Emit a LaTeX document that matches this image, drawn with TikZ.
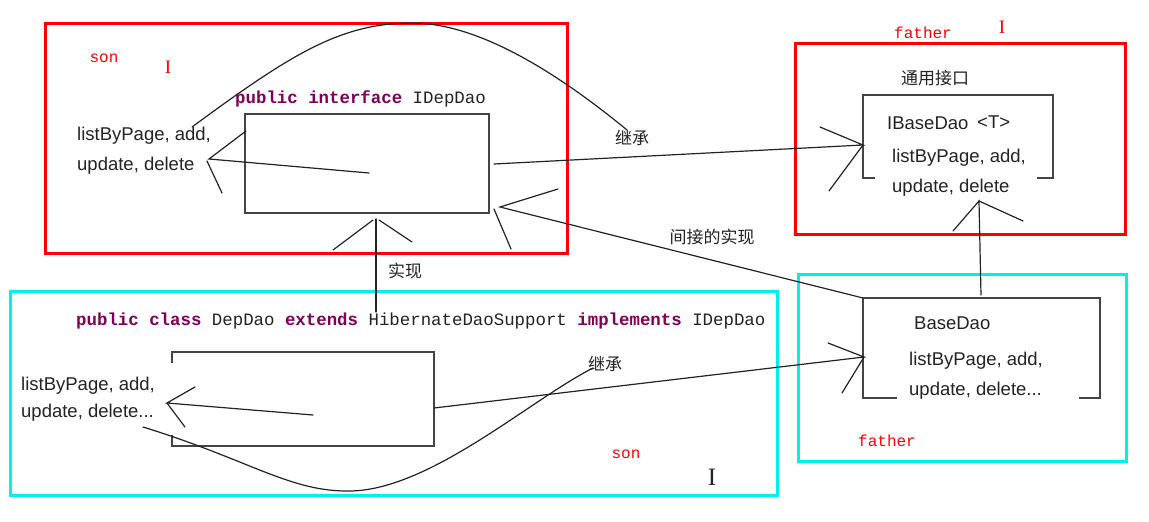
\documentclass[tikz,border=0pt]{standalone}
\usepackage{fontspec}
\setmainfont{Liberation Sans}
\setmonofont{Liberation Mono}
\newfontfamily\cjk{Noto Sans CJK SC}
\newfontfamily\cursorfont{Liberation Serif}
\definecolor{kwpurple}{RGB}{127,0,85}
\definecolor{framered}{RGB}{255,0,0}
\definecolor{framecyan}{RGB}{0,240,240}
\definecolor{ink}{RGB}{35,35,35}
\tikzset{
  frame/.style={line width=3pt},
  classbox/.style={draw=ink!85, line width=1.5pt},
  stroke/.style={ink, line width=1.2pt, line cap=round},
  code/.style={font=\fontsize{17.4}{20}\selectfont\ttfamily, inner sep=0pt, anchor=west, text=ink},
  member/.style={font=\fontsize{18.5}{22}\selectfont, inner sep=0pt, anchor=west, text=ink},
  zh/.style={font=\fontsize{17}{20}\selectfont\cjk, inner sep=0pt, text=ink},
  tag/.style={font=\fontsize{16}{20}\selectfont\ttfamily, inner sep=0pt, text=framered},
  cursor/.style={font=\fontsize{19}{20}\selectfont\cursorfont, inner sep=0pt},
}
\newcommand{\kw}[1]{\textcolor{kwpurple}{\bfseries #1}}
\begin{document}
\begin{tikzpicture}[x=1pt, y=-1pt]
\useasboundingbox[fill=white] (0,0) rectangle (1149,522);
% frames
\draw[frame, framered] (45,23) rectangle (567,253);
\draw[frame, framered] (795,43) rectangle (1125,234);
\draw[frame, framecyan] (10,291) rectangle (777,495);
\draw[frame, framecyan] (798,274) rectangle (1126,461);
% class boxes
\draw[classbox] (245,114) rectangle (489,213);
\draw[classbox] (875,178) -| (863,95) -| (1053,178) -- (1037,178);
\draw[classbox] (172,363) -- (172,352) -| (434,446) -| (172,435);
\draw[classbox] (897,398) -| (863,298) -| (1100,398) -- (1079,398);
% texts, interface IDepDao
\node[tag] (sonA) at (104,58) {son};
\node[cursor, text=framered] (curA) at (168,67) {I};
\node[code] (idepdao) at (235,99) {\kw{public} \kw{interface} IDepDao};
\node[member] (idepA) at (77,136) {listByPage, add,};
\node[member] (idepB) at (77,166) {update, delete};
% texts, IBaseDao
\node[tag] (fatherA) at (923,33) {father};
\node[cursor, text=framered] (curB) at (1002,27) {I};
\node[zh] (common) at (935,78) {通用接口};
\node[member] (ibase) at (887,123) {IBaseDao};
\node[member] (ibaseT) at (977,122) {<T>};
\node[member] (ibaseA) at (892,158) {listByPage, add,};
\node[member] (ibaseB) at (892,188) {update, delete};
% texts, DepDao
\node[code] (depdao) at (76,321) {\kw{public} \kw{class} DepDao \kw{extends} HibernateDaoSupport \kw{implements} IDepDao};
\node[member] (depA) at (21,386) {listByPage, add,};
\node[member] (depB) at (21,413) {update, delete...};
\node[tag] (sonB) at (626,454) {son};
\node[cursor, text=ink, font=\fontsize{25}{26}\selectfont\cursorfont] (curC) at (712,477) {I};
% texts, BaseDao
\node[member] (base) at (914,323) {BaseDao};
\node[member] (baseA) at (909,361) {listByPage, add,};
\node[member] (baseB) at (909,391) {update, delete...};
\node[tag, anchor=west] (fatherB) at (858,441) {father};
% labels on the connectors
\node[zh] (inheritA) at (632,138) {继承};
\node[zh] (realize) at (405,271) {实现};
\node[zh] (indirect) at (712,237) {间接的实现};
\node[zh] (inheritB) at (605,364) {继承};
% end points
\coordinate (tipA) at (209,159);
\coordinate (tipB) at (863,145);
\coordinate (tipC) at (500,207);
\coordinate (tipD) at (376,219);
\coordinate (tipE) at (979,201);
\coordinate (tipF) at (167,403);
\coordinate (tipG) at (864,357);
% arrows with open barbs
\draw[stroke] (369,173) -- (tipA) -- (246,131);
\draw[stroke] (207,161) -- (222,193);
\draw[stroke] (494,164) -- (tipB) -- (820,127);
\draw[stroke] (tipB) -- (829,191);
\draw[stroke] (863,298) -- (tipC) -- (558,189);
\draw[stroke] (494,209) -- (511,249);
\draw[stroke] (376,312) -- (tipD);
\draw[stroke] (373,220) -- (333,250);
\draw[stroke] (379,220) -- (412,242);
\draw[stroke] (981,295) -- (tipE) -- (953,231);
\draw[stroke] (tipE) -- (1023,221);
\draw[stroke] (313,415) -- (tipF) -- (195,387);
\draw[stroke] (tipF) -- (185,427);
\draw[stroke] (434,408) -- (tipG) -- (828,343);
\draw[stroke] (tipG) -- (842,393);
% swooping curves
\draw[stroke] (192,127) .. controls (290,55) and (340,23) .. (412,23)
  .. controls (480,23) and (560,75) .. (627,130);
\draw[stroke] (143,427) .. controls (250,460) and (290,492) .. (350,491)
  .. controls (430,490) and (530,400) .. (593,368);
\end{tikzpicture}
\end{document}
